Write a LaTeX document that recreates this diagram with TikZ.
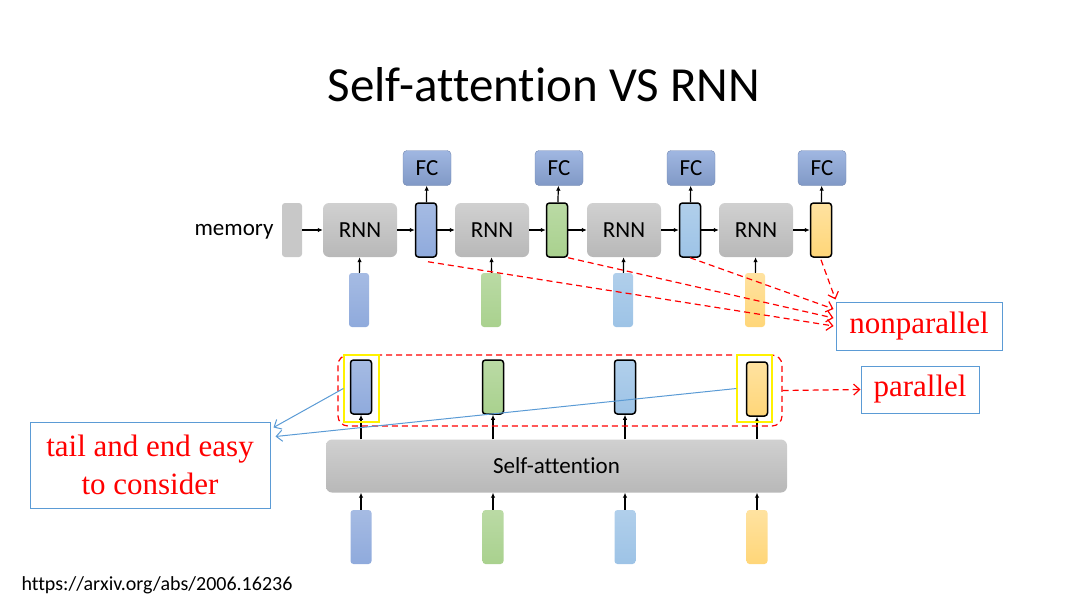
\documentclass[tikz,border=0pt]{standalone}
\usepackage{fontspec}
\setmainfont[Ligatures=NoCommon]{Carlito}
\newfontfamily\timesfont{Liberation Serif}
\usetikzlibrary{arrows.meta,calc}

\definecolor{vblue}{RGB}{143,170,220}
\definecolor{vgreen}{RGB}{169,209,142}
\definecolor{vlblue}{RGB}{157,195,230}
\definecolor{vorange}{RGB}{255,214,120}
\definecolor{boxgray}{RGB}{200,200,200}
\definecolor{linkblue}{RGB}{91,155,213}

\tikzset{rnnbox/.style={top color=boxgray!85, bottom color=boxgray!92!black, rounded corners=6pt, minimum width=74pt, minimum height=54pt, inner sep=0pt, font=\fontsize{23}{27}\selectfont},
         fcbox/.style={top color=vblue!85, bottom color=vblue!90!black, draw=vblue!80!black, rounded corners=4pt, minimum width=48pt, minimum height=35pt, inner sep=0pt, font=\fontsize{23}{27}\selectfont},
         vec/.style={rounded corners=3pt, minimum width=21pt, minimum height=54pt, inner sep=0pt},
         outvec/.style={vec, draw=black, line width=1.5pt},
         note/.style={draw=linkblue, line width=1pt, text=red, inner sep=0pt, font=\timesfont\fontsize{31}{38}\selectfont},
         feed/.style={-{Latex[length=5pt,width=4.5pt]}, line width=1.2pt},
         reddash/.style={-{Straight Barb[length=6pt,width=11pt]}, red, line width=1.2pt, dash pattern=on 6pt off 4pt},
         hint/.style={-{Straight Barb[length=6pt,width=11pt]}, linkblue, line width=1pt}}

\begin{document}
\begin{tikzpicture}[x=1pt,y=-1pt]
  \useasboundingbox (0,0) rectangle (1080,605);
  \node (title) at (544,85) {\fontsize{49}{58}\selectfont Self-attention VS RNN};

  % RNN chain
  \node (memlabel) [anchor=east, font=\fontsize{23}{27}\selectfont] at (277,232) {memory};
  \node (mem) [vec, minimum width=20pt, fill=boxgray] at (292,230) {};
  \node (rnn1) [rnnbox] at (360,230) {RNN};
  \node (rnn2) [rnnbox] at (492,230) {RNN};
  \node (rnn3) [rnnbox] at (624,230) {RNN};
  \node (rnn4) [rnnbox] at (756,230) {RNN};
  \node (h1) [outvec, top color=vblue!80, bottom color=vblue] at (426,230) {};
  \node (h2) [outvec, top color=vgreen!80, bottom color=vgreen] at (557,230) {};
  \node (h3) [outvec, top color=vlblue!80, bottom color=vlblue] at (690,230) {};
  \node (h4) [outvec, top color=vorange!70, bottom color=vorange] at (821,230) {};
  \node (fc1) [fcbox] at (427,168) {FC};
  \node (fc2) [fcbox] at (559,168) {FC};
  \node (fc3) [fcbox] at (691,168) {FC};
  \node (fc4) [fcbox] at (822,168) {FC};
  \node (x1) [vec, minimum width=20pt, top color=vblue!80, bottom color=vblue] at (359,300) {};
  \node (x2) [vec, minimum width=20pt, top color=vgreen!80, bottom color=vgreen] at (491,300) {};
  \node (x3) [vec, minimum width=20pt, top color=vlblue!80, bottom color=vlblue] at (623,300) {};
  \node (x4) [vec, minimum width=20pt, top color=vorange!70, bottom color=vorange] at (755,300) {};

  \draw[feed] (mem) -- (rnn1);
  \draw[feed] (rnn1) -- (h1);
  \draw[feed] (h1) -- (rnn2);
  \draw[feed] (rnn2) -- (h2);
  \draw[feed] (h2) -- (rnn3);
  \draw[feed] (rnn3) -- (h3);
  \draw[feed] (h3) -- (rnn4);
  \draw[feed] (rnn4) -- (h4);
  \draw[feed] (h1) -- (fc1);
  \draw[feed] (h2) -- (fc2);
  \draw[feed] (h3) -- (fc3);
  \draw[feed] (h4) -- (fc4);
  \draw[feed] (x1) -- (rnn1);
  \draw[feed] (x2) -- (rnn2);
  \draw[feed] (x3) -- (rnn3);
  \draw[feed] (x4) -- (rnn4);

  \node (nonpar) [note, minimum width=166pt, minimum height=48pt] at (919,326) {nonparallel};
  \draw[reddash] ([shift={(2pt,-4pt)}]h1.south) -- ([xshift=-2pt]nonpar.west);
  \draw[reddash] (h2.south east) -- ([shift={(-2pt,8pt)}]nonpar.west);
  \draw[reddash] (h3.south) -- ([shift={(-2pt,17pt)}]nonpar.west);
  \draw[reddash] ([yshift=-2pt]h4.south) -- ([yshift=2pt]nonpar.north west);

  % self-attention
  \node (sa) [rnnbox, minimum width=461pt, minimum height=53pt] at (556.5,466) {Self-attention};
  \node (o1) [outvec, top color=vblue!80, bottom color=vblue] at (361,387) {};
  \node (o2) [outvec, top color=vgreen!80, bottom color=vgreen] at (493,387) {};
  \node (o3) [outvec, top color=vlblue!80, bottom color=vlblue] at (625,387) {};
  \node (o4) [outvec, top color=vorange!70, bottom color=vorange] at (757,389) {};
  \node (i1) [vec, top color=vblue!80, bottom color=vblue] at (361,537) {};
  \node (i2) [vec, top color=vgreen!80, bottom color=vgreen] at (493,537) {};
  \node (i3) [vec, top color=vlblue!80, bottom color=vlblue] at (625,537) {};
  \node (i4) [vec, top color=vorange!70, bottom color=vorange] at (757,537) {};
  \draw[feed] (o1 |- sa.north) -- (o1);
  \draw[feed] (o2 |- sa.north) -- (o2);
  \draw[feed] (o3 |- sa.north) -- (o3);
  \draw[feed] (o4 |- sa.north) -- (o4);
  \draw[feed] (i1) -- (i1 |- sa.south);
  \draw[feed] (i2) -- (i2 |- sa.south);
  \draw[feed] (i3) -- (i3 |- sa.south);
  \draw[feed] (i4) -- (i4 |- sa.south);

  \node (allout) [draw=red, line width=1.2pt, dash pattern=on 6pt off 4pt, rounded corners=10pt, minimum width=444pt, minimum height=71pt] at (560,390.5) {};
  \node (ybox1) [draw=yellow, line width=1.2pt, minimum width=35pt, minimum height=67pt] at (361.5,388.5) {};
  \node (ybox4) [draw=yellow, line width=1.2pt, minimum width=35pt, minimum height=67pt] at (754.5,388.5) {};

  \node (par) [note, minimum width=118pt, minimum height=47pt] at (920,389.5) {parallel};
  \draw[reddash] (allout.east) -- (par.west);

  \node (tail) [note, minimum width=240pt, minimum height=86pt, align=center] at (150,465) {tail and end easy\\to consider};
  \draw[hint] (ybox1.west) -- ([shift={(3pt,-6pt)}]tail.north east);
  \draw[hint] (ybox4.west) -- ([shift={(5pt,-15pt)}]tail.north east);

  \node (url) [anchor=west, font=\fontsize{20}{24}\selectfont] at (18,585) {https://arxiv.org/abs/2006.16236};
\end{tikzpicture}
\end{document}
